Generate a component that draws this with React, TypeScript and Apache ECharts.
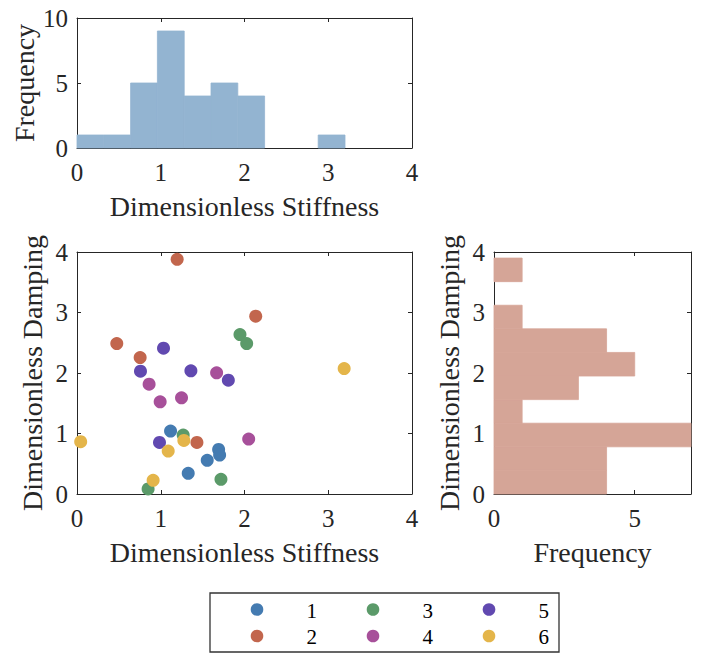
import React, { useEffect, useRef } from "react";
import * as echarts from "echarts";

const groupNames = ["1", "2", "3", "4", "5", "6"];
const groupColors = ["#447bb1", "#c2664d", "#5b9a69", "#a7509a", "#6149b0", "#e4b54a"];

const group1 = [[1.117, 1.04], [1.691, 0.737], [1.703, 0.644], [1.555, 0.556], [1.328, 0.341]];
const group2 = [[1.196, 3.88], [2.134, 2.94], [0.475, 2.487], [0.754, 2.256], [1.432, 0.853]];
const group3 = [[1.946, 2.635], [2.026, 2.487], [1.268, 0.974], [1.719, 0.242], [0.849, 0.083]];
const group4 = [[1.667, 2.003], [0.861, 1.816], [1.248, 1.59], [0.993, 1.524], [2.05, 0.908]];
const group5 = [[1.033, 2.41], [0.758, 2.03], [1.36, 2.036], [1.807, 1.882], [0.985, 0.853]];
const group6 = [[0.044, 0.864], [1.276, 0.886], [1.089, 0.71], [0.909, 0.226], [3.19, 2.074]];
const groups = [group1, group2, group3, group4, group5, group6];

const stiffnessEdges = [0, 0.32, 0.64, 0.96, 1.28, 1.6, 1.92, 2.24, 2.56, 2.88, 3.2];
const stiffnessCounts = [1, 1, 5, 9, 4, 5, 4, 0, 0, 1];
const dampingEdges = [0, 0.39, 0.78, 1.17, 1.56, 1.95, 2.34, 2.73, 3.12, 3.51, 3.9];
const dampingCounts = [4, 4, 7, 1, 3, 5, 4, 1, 0, 1];

const FONT = "'Liberation Serif', 'Times New Roman', serif";
const INK = "#262626";

function binData(edges: number[], counts: number[]) {
  return counts.map((c, i) => [edges[i], edges[i + 1], c]);
}

function axisBase(extra: any) {
  return {
    axisLine: { show: true, onZero: false, lineStyle: { color: INK, width: 1 } },
    axisTick: { show: true, inside: true, length: 4, lineStyle: { color: INK, width: 1 } },
    splitLine: { show: false },
    axisLabel: { color: INK, fontFamily: FONT, fontSize: 25, margin: 12 },
    nameTextStyle: { color: INK, fontFamily: FONT, fontSize: 28 },
    ...extra,
  };
}

function mirror(extra: any) {
  return axisBase({ ...extra, axisLabel: { show: false }, name: "" });
}

export default function App() {
  const ref = useRef<HTMLDivElement>(null);
  useEffect(() => {
    if (!ref.current) return;
    const chart = echarts.init(ref.current, null, { renderer: "svg" });

    const legendEls: any[] = [
      {
        type: "rect",
        shape: { x: 210, y: 593, width: 349, height: 59 },
        style: { fill: "#fff", stroke: "#333", lineWidth: 1.3 },
      },
    ];
    groupNames.forEach((name, i) => {
      const col = Math.floor(i / 2);
      const row = i % 2;
      const cx = 257 + col * 116;
      const cy = 609.5 + row * 26.5;
      legendEls.push({
        type: "circle",
        shape: { cx, cy, r: 6.3 },
        style: { fill: groupColors[i] },
        z: 10,
      });
      legendEls.push({
        type: "text",
        x: cx + 60,
        y: cy + 1,
        style: {
          text: name,
          fill: "#000",
          font: `21px ${FONT}`,
          align: "right",
          verticalAlign: "middle",
        },
        z: 10,
      });
    });

    const option: any = {
      animation: false,
      backgroundColor: "#fff",
      textStyle: { fontFamily: FONT },
      grid: [
        { left: 77, top: 18, width: 335, height: 130 },
        { left: 77, top: 252, width: 335, height: 242 },
        { left: 494, top: 252, width: 197, height: 242 },
      ],
      xAxis: [
        axisBase({
          type: "value", gridIndex: 0, min: 0, max: 4, interval: 1, position: "bottom",
          name: "Dimensionless Stiffness", nameLocation: "middle", nameGap: 44,
        }),
        mirror({ type: "value", gridIndex: 0, min: 0, max: 4, interval: 1, position: "top" }),
        axisBase({
          type: "value", gridIndex: 1, min: 0, max: 4, interval: 1, position: "bottom",
          name: "Dimensionless Stiffness", nameLocation: "middle", nameGap: 44,
        }),
        mirror({ type: "value", gridIndex: 1, min: 0, max: 4, interval: 1, position: "top" }),
        axisBase({
          type: "value", gridIndex: 2, min: 0, max: 7, interval: 5, position: "bottom",
          name: "Frequency", nameLocation: "middle", nameGap: 44,
          axisLabel: { color: INK, fontFamily: FONT, fontSize: 25, margin: 12, showMaxLabel: false },
        }),
        mirror({ type: "value", gridIndex: 2, min: 0, max: 7, interval: 5, position: "top" }),
      ],
      yAxis: [
        axisBase({
          type: "value", gridIndex: 0, min: 0, max: 10, interval: 5, position: "left",
          name: "Frequency", nameLocation: "middle", nameGap: 39,
          axisLabel: { color: INK, fontFamily: FONT, fontSize: 25, margin: 9 },
        }),
        mirror({ type: "value", gridIndex: 0, min: 0, max: 10, interval: 5, position: "right" }),
        axisBase({
          type: "value", gridIndex: 1, min: 0, max: 4, interval: 1, position: "left",
          name: "Dimensionless Damping", nameLocation: "middle", nameGap: 31,
          axisLabel: { color: INK, fontFamily: FONT, fontSize: 25, margin: 9 },
        }),
        mirror({ type: "value", gridIndex: 1, min: 0, max: 4, interval: 1, position: "right" }),
        axisBase({
          type: "value", gridIndex: 2, min: 0, max: 4, interval: 1, position: "left",
          name: "Dimensionless Damping", nameLocation: "middle", nameGap: 31,
          axisLabel: { color: INK, fontFamily: FONT, fontSize: 25, margin: 9 },
        }),
        mirror({ type: "value", gridIndex: 2, min: 0, max: 4, interval: 1, position: "right" }),
      ],
      series: [
        {
          type: "custom",
          xAxisIndex: 0,
          yAxisIndex: 0,
          data: binData(stiffnessEdges, stiffnessCounts),
          clip: false,
          z: 1,
          renderItem: (params: any, api: any) => {
            const lo = api.value(0), hi = api.value(1), c = api.value(2);
            if (!c) return null;
            const p0 = api.coord([lo, 0]);
            const p1 = api.coord([hi, c]);
            return {
              type: "rect",
              shape: { x: p0[0], y: p1[1], width: p1[0] - p0[0], height: p0[1] - p1[1] },
              style: { fill: "#93b4d1", stroke: "#93b4d1", lineWidth: 0.8 },
            };
          },
          encode: { x: [0, 1], y: 2 },
        },
        {
          type: "custom",
          xAxisIndex: 4,
          yAxisIndex: 4,
          data: binData(dampingEdges, dampingCounts),
          clip: false,
          z: 1,
          renderItem: (params: any, api: any) => {
            const lo = api.value(0), hi = api.value(1), c = api.value(2);
            if (!c) return null;
            const p0 = api.coord([0, lo]);
            const p1 = api.coord([c, hi]);
            return {
              type: "rect",
              shape: { x: p0[0], y: p1[1], width: p1[0] - p0[0], height: p0[1] - p1[1] },
              style: { fill: "#d5a597", stroke: "#d5a597", lineWidth: 0.8 },
            };
          },
          encode: { x: 2, y: [0, 1] },
        },
        ...groups.map((g, i) => ({
          type: "scatter",
          name: groupNames[i],
          xAxisIndex: 2,
          yAxisIndex: 2,
          data: g,
          symbol: "circle",
          symbolSize: 13,
          clip: false,
          itemStyle: { color: groupColors[i], opacity: 1 },
          emphasis: { disabled: true },
          z: 3,
        })),
      ],
      graphic: legendEls,
    };
    chart.setOption(option);
    return () => chart.dispose();
  }, []);
  return (
    <div
      ref={ref}
      style={{ position: "fixed", left: 0, top: 0, width: 702, height: 666, background: "#fff" }}
    />
  );
}
